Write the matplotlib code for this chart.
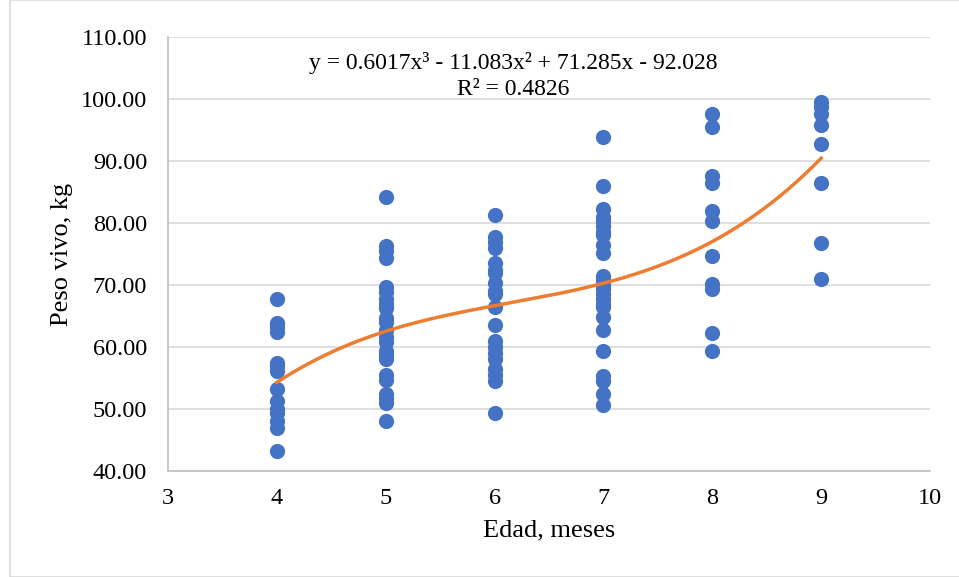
import numpy as np
import matplotlib.pyplot as plt
from matplotlib.patches import Rectangle

plt.rcParams['font.family'] = ['Liberation Serif', 'DejaVu Serif']

# edad (meses) y peso vivo (kg)
edad_4 = [67.8, 63.8, 63.2, 62.5, 57.5, 57.0, 56.2, 53.2, 51.3, 50.0, 49.3, 48.0, 47.0, 43.2]
edad_5 = [84.2, 76.3, 75.5, 74.3, 69.7, 68.8, 67.7, 67.0, 66.3, 64.7, 64.0, 62.8, 61.6,
          60.8, 59.3, 58.7, 58.0, 55.5, 54.7, 52.5, 51.8, 51.0, 48.0]
edad_6 = [81.3, 77.8, 77.0, 76.0, 73.5, 72.5, 72.0, 70.3, 69.0, 68.5, 66.5, 63.5, 61.0,
          60.0, 59.0, 58.0, 56.5, 55.5, 54.5, 49.3]
edad_7 = [93.9, 85.9, 82.2, 81.0, 80.3, 79.5, 78.6, 78.0, 76.5, 75.2, 71.5, 70.8, 70.0,
          69.3, 68.5, 67.8, 67.0, 66.5, 64.8, 62.8, 59.3, 55.3, 54.5, 52.5, 50.6]
edad_8 = [97.6, 95.5, 87.6, 86.5, 82.0, 80.4, 74.6, 70.2, 69.3, 62.3, 59.3]
edad_9 = [99.5, 98.7, 97.6, 95.8, 92.8, 86.5, 76.7, 70.9]

grupos = {4: edad_4, 5: edad_5, 6: edad_6, 7: edad_7, 8: edad_8, 9: edad_9}

# coeficientes de la linea de tendencia polinomica (grado 3)
coef = [0.6017, -11.083, 71.285, -92.028]

x = np.concatenate([[k] * len(v) for k, v in grupos.items()])
y = np.concatenate(list(grupos.values()))

fig = plt.figure(figsize=(9.59, 5.77), dpi=100)
ax = fig.add_axes([168 / 959, 1 - 471 / 577, (930 - 168) / 959, (471 - 37) / 577])

ax.scatter(x, y, s=120, color='#4472C4', zorder=3, linewidths=0)
xf = np.linspace(4, 9, 200)
ax.plot(xf, np.polyval(coef, xf), color='#ED7D31', lw=2.5, zorder=4)

ax.set_xlim(3, 10)
ax.set_ylim(40, 110)
ax.set_yticks(np.arange(40, 111, 10))
ax.set_yticklabels([f'{v:.2f}' for v in np.arange(40, 111, 10)])
ax.grid(axis='y', color='#D9D9D9', lw=1.2)
ax.set_axisbelow(True)
for s in ['top', 'right']:
    ax.spines[s].set_visible(False)
for s in ['left', 'bottom']:
    ax.spines[s].set_color('#BFBFBF')
    ax.spines[s].set_linewidth(1.2)
ax.tick_params(length=0, labelsize=17.5, colors='black')
ax.tick_params(axis='y', pad=15)
ax.tick_params(axis='x', pad=12)

ax.set_xlabel('Edad, meses', fontsize=19, labelpad=8)
ax.set_ylabel('Peso vivo, kg', fontsize=19, labelpad=6)

ax.text(0.453, 0.940, 'y = 0.6017x³ - 11.083x² + 71.285x - 92.028',
        transform=ax.transAxes, ha='center', va='center', fontsize=17)
ax.text(0.453, 0.880, 'R² = 0.4826', transform=ax.transAxes,
        ha='center', va='center', fontsize=17)

fig.patches.append(Rectangle((10 / 959, 0), 1, 1, transform=fig.transFigure,
                             fill=False, edgecolor='#D9D9D9', lw=1.2))

fig.savefig('out.png', dpi=100)
